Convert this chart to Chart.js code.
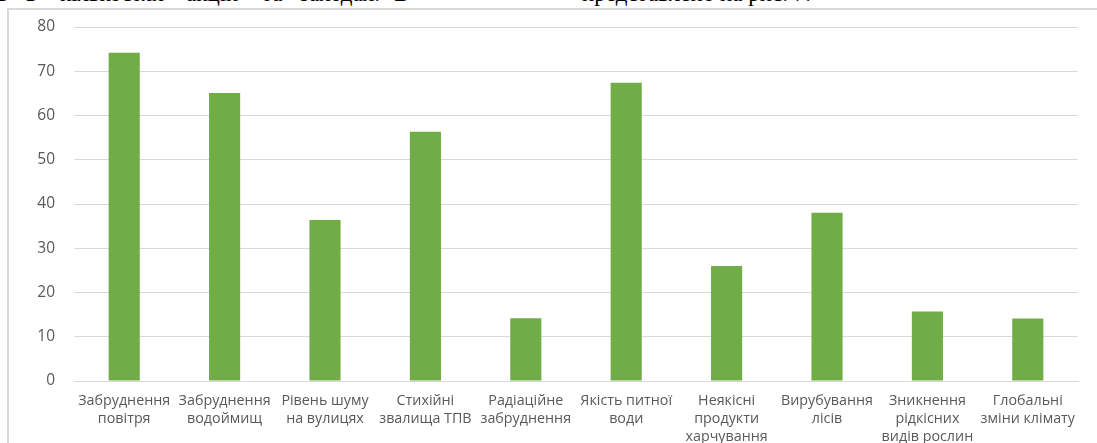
<!DOCTYPE html>
<html>
<head>
<meta charset="utf-8">
<script src="https://cdn.jsdelivr.net/npm/chart.js@4"></script>
<style>
  html, body { margin: 0; padding: 0; background: #fff; overflow: hidden; }
  body { width: 1097px; height: 443px; position: relative; }
  /* cut-off line of text above the figure */
  #above { position: absolute; left: 0; top: 0; width: 1097px; height: 6px; overflow: hidden; }
  #above span { position: absolute; top: -19px; font-family: "Liberation Serif", serif; font-size: 23px; color: #000; white-space: nowrap; }
  #frame { position: absolute; left: 7px; top: 8px; width: 1100px; height: 450px; border: 2px solid #d9d9d9; box-sizing: border-box; }
  #wrap { position: absolute; left: 9px; top: 10px; width: 1088px; height: 433px; }
</style>
</head>
<body>
<div id="above">
  <span style="left:-3px">в</span>
  <span style="left:26px">в</span>
  <span style="left:60px">кількостях</span>
  <span style="left:186px">акцій</span>
  <span style="left:262px">та</span>
  <span style="left:300px">заходах.</span>
  <span style="left:394px">В</span>
  <span style="left:582px">представлено на рис. 7.</span>
</div>
<div id="frame"></div>
<div id="wrap"><canvas id="chart"></canvas></div>
<script>
// Chart data
const categories = [
  ["Забруднення", "повітря"],
  ["Забруднення", "водоймищ"],
  ["Рівень шуму", "на вулицях"],
  ["Стихійні", "звалища ТПВ"],
  ["Радіаційне", "забруднення"],
  ["Якість питної", "води"],
  ["Неякісні", "продукти", "харчування"],
  ["Вирубування", "лісів"],
  ["Зникнення", "рідкісних", "видів рослин"],
  ["Глобальні", "зміни клімату"],
];
const values = [74.2, 65.1, 36.4, 56.3, 14.2, 67.4, 26, 38, 15.7, 14.1];
const yTicks = [0, 10, 20, 30, 40, 50, 60, 70, 80];

const gridColor = "#d9d9d9";
const textColor = "#595959";

new Chart(document.getElementById("chart"), {
  type: "bar",
  data: {
    labels: categories,
    datasets: [
      {
        data: values,
        backgroundColor: "#70ad47",
        borderWidth: 0,
        barPercentage: 0.31,
        categoryPercentage: 1,
      },
    ],
  },
  options: {
    responsive: true,
    maintainAspectRatio: false,
    animation: false,
    layout: {
      padding: { top: 17, right: 19, bottom: 0, left: 0 },
    },
    plugins: {
      legend: { display: false },
      tooltip: { enabled: false },
    },
    scales: {
      x: {
        grid: { display: false, drawTicks: false },
        border: { display: true, color: gridColor, width: 1 },
        ticks: {
          color: textColor,
          padding: 11,
          maxRotation: 0,
          autoSkip: false,
          font: { family: "Open Sans", size: 14.3, lineHeight: 1.27 },
        },
        afterFit: (scale) => {
          scale.height = 62;
          scale.paddingLeft = 0;
          scale.paddingRight = 0;
        },
      },
      y: {
        min: 0,
        max: 80,
        afterBuildTicks: (scale) => {
          scale.ticks = yTicks.map((v) => ({ value: v }));
        },
        grid: { color: gridColor, lineWidth: 1, drawTicks: false },
        border: { display: false },
        ticks: {
          color: textColor,
          padding: 19,
          font: { family: "Open Sans", size: 15.5 },
        },
        afterFit: (scale) => {
          scale.width = 65;
          scale.paddingTop = 0;
          scale.paddingBottom = 0;
        },
      },
    },
  },
});
</script>
</body>
</html>
